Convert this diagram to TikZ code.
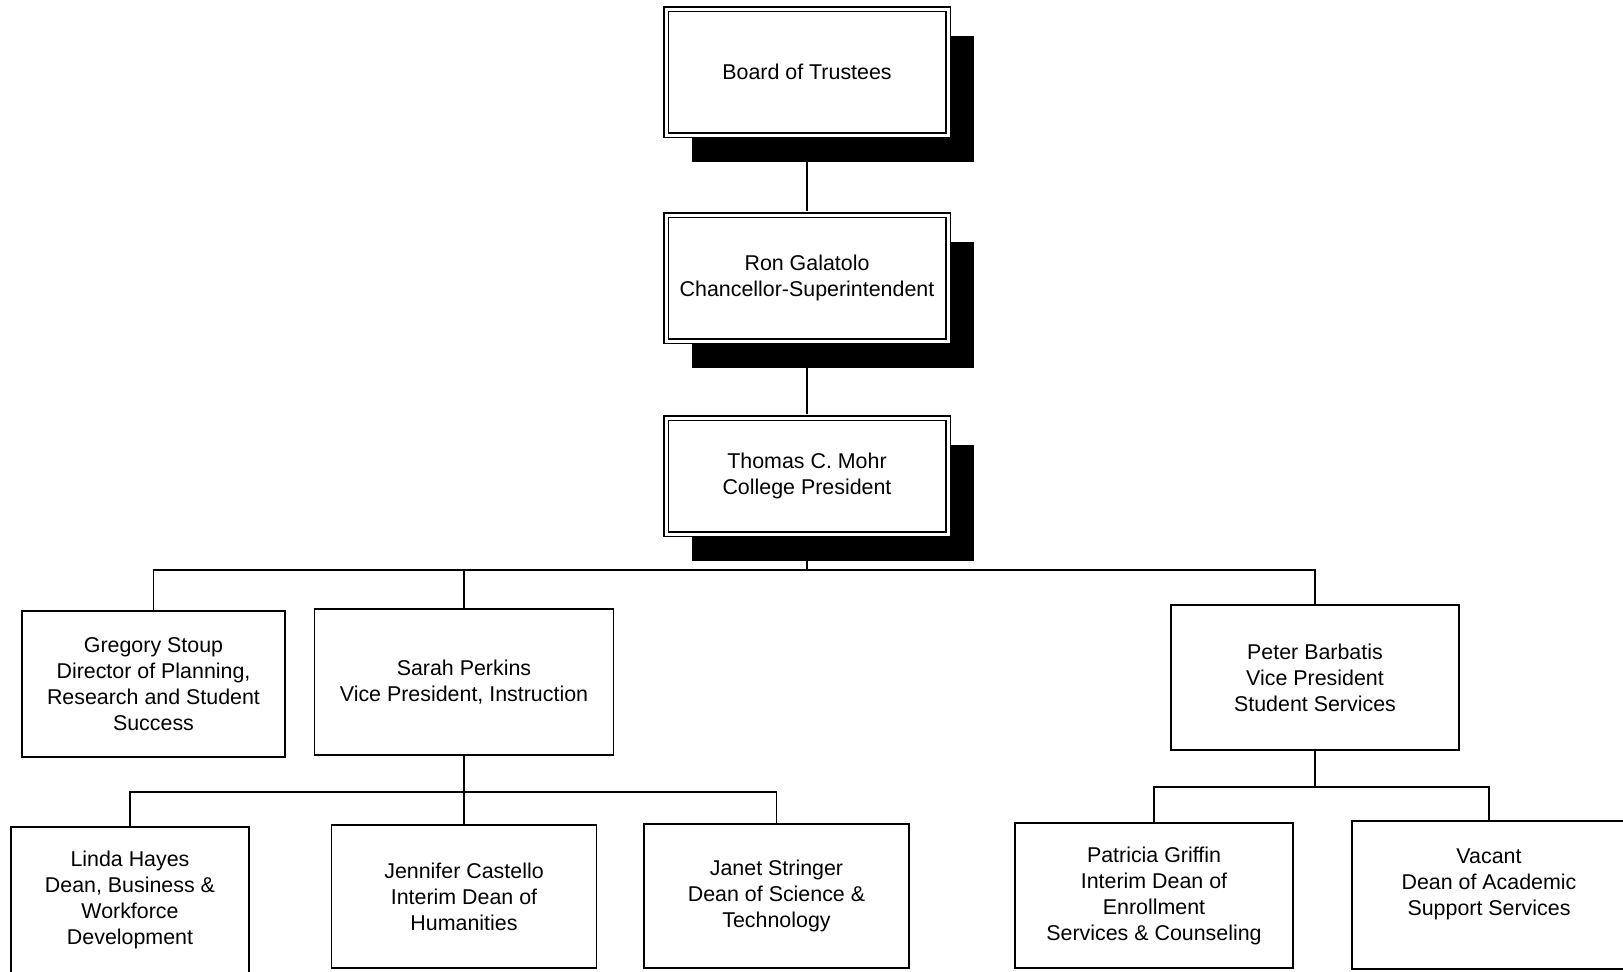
\documentclass[tikz,border=0pt]{standalone}
\usepackage{fontspec}
\setmainfont{Liberation Sans}
\usetikzlibrary{positioning,shadows}

\begin{document}
\begin{tikzpicture}[x=0.5pt,y=-0.5pt,
    font=\fontsize{10.7}{13}\selectfont,
    topbox/.style={draw, double, double distance=1.5pt, line width=0.6pt, fill=white, inner sep=0pt,
        minimum width=141pt, minimum height=63pt, align=center,
        drop shadow={shadow xshift=13pt, shadow yshift=-13.5pt, fill=black, opacity=1}},
    staffbox/.style={draw, line width=0.6pt, fill=white, inner sep=0pt, align=center},
    link/.style={line width=0.6pt}]
    \clip (0,0) rectangle (1623,971);

    % governing chain
    \node[topbox] (board) at (807,72) {Board of Trustees};
    \node[topbox, below of=board, node distance=103pt] (chancellor) {Ron Galatolo\\Chancellor-Superintendent};
    \node[topbox, below of=chancellor, node distance=99pt, minimum height=58pt] (president) {Thomas C. Mohr\\College President};

    % reports to the president
    \node[staffbox, minimum width=131.5pt, minimum height=73pt] (planning) at (153.5,684) {Gregory Stoup\\Director of Planning,\\Research and Student\\Success};
    \node[staffbox, minimum width=149.5pt, minimum height=73pt] (instruction) at (464,682) {Sarah Perkins\\Vice President, Instruction};
    \node[staffbox, minimum width=144pt, minimum height=72.5pt] (studserv) at (1315,677.5) {Peter Barbatis\\Vice President\\Student Services};

    % deans
    \node[staffbox, minimum width=119pt, minimum height=73pt] (business) at (130,900) {Linda Hayes\\Dean, Business \&\\Workforce\\Development};
    \node[staffbox, minimum width=132.5pt, minimum height=71.5pt] (humanities) at (464,896.5) {Jennifer Castello\\Interim Dean of\\Humanities};
    \node[staffbox, minimum width=132.5pt, minimum height=72pt] (science) at (776.5,896) {Janet Stringer\\Dean of Science \&\\Technology};
    \node[staffbox, minimum width=139pt, minimum height=72.5pt] (enrollment) at (1154,895.5) {Patricia Griffin\\Interim Dean of\\Enrollment\\Services \& Counseling};
    \node[staffbox, minimum width=137pt, minimum height=74pt] (academic) at (1489,895) {Vacant\\Dean of Academic\\Support Services\\\mbox{}};

    \coordinate (presbus) at (807,570);
    \coordinate (instbus) at (464,792);
    \coordinate (servbus) at (1315,787);

    \draw[link, shorten <=3pt, shorten >=1.5pt] (board) -- (chancellor);
    \draw[link, shorten <=3pt, shorten >=1.5pt] (chancellor) -- (president);
    \draw[link, shorten <=3pt] (president) -- (presbus);
    \draw[link] (planning.north) |- (presbus) -| (studserv.north);
    \draw[link] (presbus -| instruction.north) -- (instruction.north);
    \draw[link] (instruction) -- (humanities);
    \draw[link] (business.north) |- (instbus) -| (science.north);
    \draw[link] (studserv) -- (servbus);
    \draw[link] (enrollment.north) |- (servbus) -| (academic.north);
\end{tikzpicture}
\end{document}
